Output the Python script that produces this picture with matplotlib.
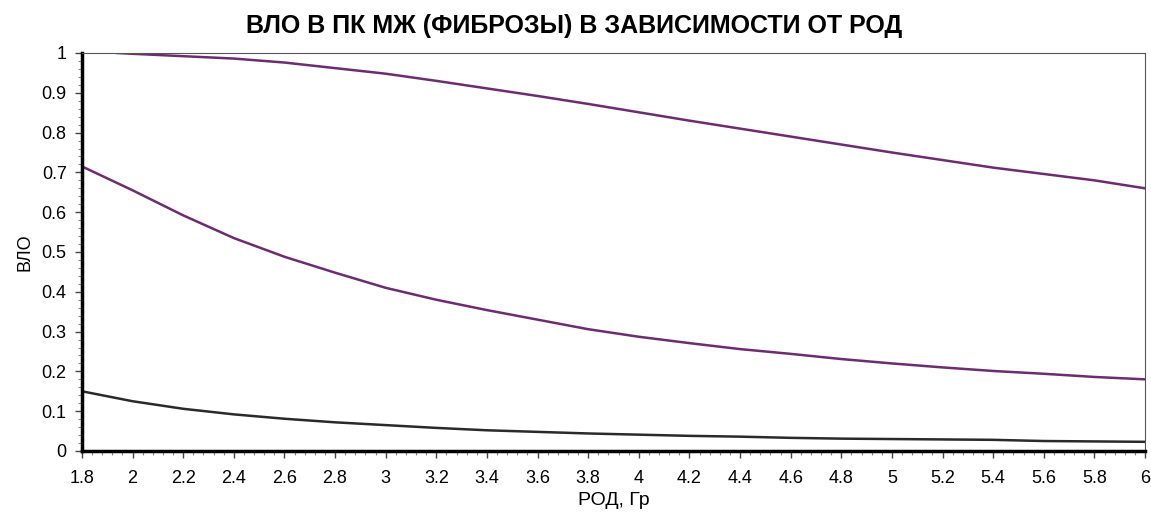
import matplotlib
matplotlib.use("Agg")
import matplotlib.pyplot as plt
from matplotlib.ticker import MultipleLocator

plt.rcParams['font.family'] = ['Liberation Sans', 'DejaVu Sans']

# data
dose_hi = [1.94, 2.0, 2.2, 2.4, 2.6, 2.8, 3.0, 3.2, 3.4, 3.6, 3.8, 4.0, 4.2, 4.4,
           4.6, 4.8, 5.0, 5.2, 5.4, 5.6, 5.8, 6.0]
ntcp_hi = [1.0, 0.998, 0.992, 0.986, 0.976, 0.962, 0.948, 0.930, 0.911, 0.892,
           0.872, 0.851, 0.830, 0.810, 0.790, 0.770, 0.750, 0.731, 0.712, 0.696,
           0.680, 0.660]

dose = [1.8, 2.0, 2.2, 2.4, 2.6, 2.8, 3.0, 3.2, 3.4, 3.6, 3.8, 4.0, 4.2, 4.4,
        4.6, 4.8, 5.0, 5.2, 5.4, 5.6, 5.8, 6.0]
ntcp_mid = [0.715, 0.655, 0.592, 0.535, 0.488, 0.448, 0.410, 0.380, 0.354, 0.330,
            0.306, 0.287, 0.271, 0.256, 0.244, 0.231, 0.220, 0.210, 0.201, 0.194,
            0.186, 0.180]
ntcp_lo = [0.150, 0.125, 0.106, 0.092, 0.081, 0.072, 0.065, 0.058, 0.052, 0.048,
           0.044, 0.041, 0.038, 0.036, 0.033, 0.031, 0.030, 0.029, 0.028, 0.025,
           0.024, 0.023]

fig = plt.figure(figsize=(11.51, 5.13), dpi=100)
ax = fig.add_axes([0.0712, 0.1209, 0.9236, 0.7758])

purple = '#6b2d6f'
ax.plot(dose_hi, ntcp_hi, color=purple, lw=1.8)
ax.plot(dose, ntcp_mid, color=purple, lw=1.8)
ax.plot(dose, ntcp_lo, color='#2a2a2a', lw=1.8)

ax.set_xlim(1.8, 6)
ax.set_ylim(0, 1)
ax.xaxis.set_major_locator(MultipleLocator(0.2))
ax.xaxis.set_minor_locator(MultipleLocator(0.04))
ax.yaxis.set_major_locator(MultipleLocator(0.1))
ax.yaxis.set_minor_locator(MultipleLocator(0.02))
fmt = lambda v, p: f"{v:.1f}".rstrip('0').rstrip('.') if abs(v) > 1e-9 else "0"
ax.xaxis.set_major_formatter(plt.FuncFormatter(fmt))
ax.yaxis.set_major_formatter(plt.FuncFormatter(fmt))

ax.tick_params(which='major', direction='out', length=5, width=1, labelsize=13, color='#444')
ax.tick_params(which='minor', direction='out', length=3, width=0.8, color='#888')
ax.tick_params(axis='x', which='major', pad=9)
ax.tick_params(axis='y', which='major', pad=6)
ax.spines['left'].set_linewidth(2.5)
ax.spines['bottom'].set_linewidth(2.5)
ax.spines['top'].set_color('#555')
ax.spines['right'].set_color('#555')

ax.set_xlabel('РОД, Гр', fontsize=14, labelpad=3)
ax.set_ylabel('ВЛО', fontsize=13, labelpad=6)
fig.suptitle('ВЛО В ПК МЖ (ФИБРОЗЫ) В ЗАВИСИМОСТИ ОТ РОД', x=0.499, y=0.949,
             va='center', fontsize=18, fontweight='bold')

fig.savefig('out.png', dpi=100)
